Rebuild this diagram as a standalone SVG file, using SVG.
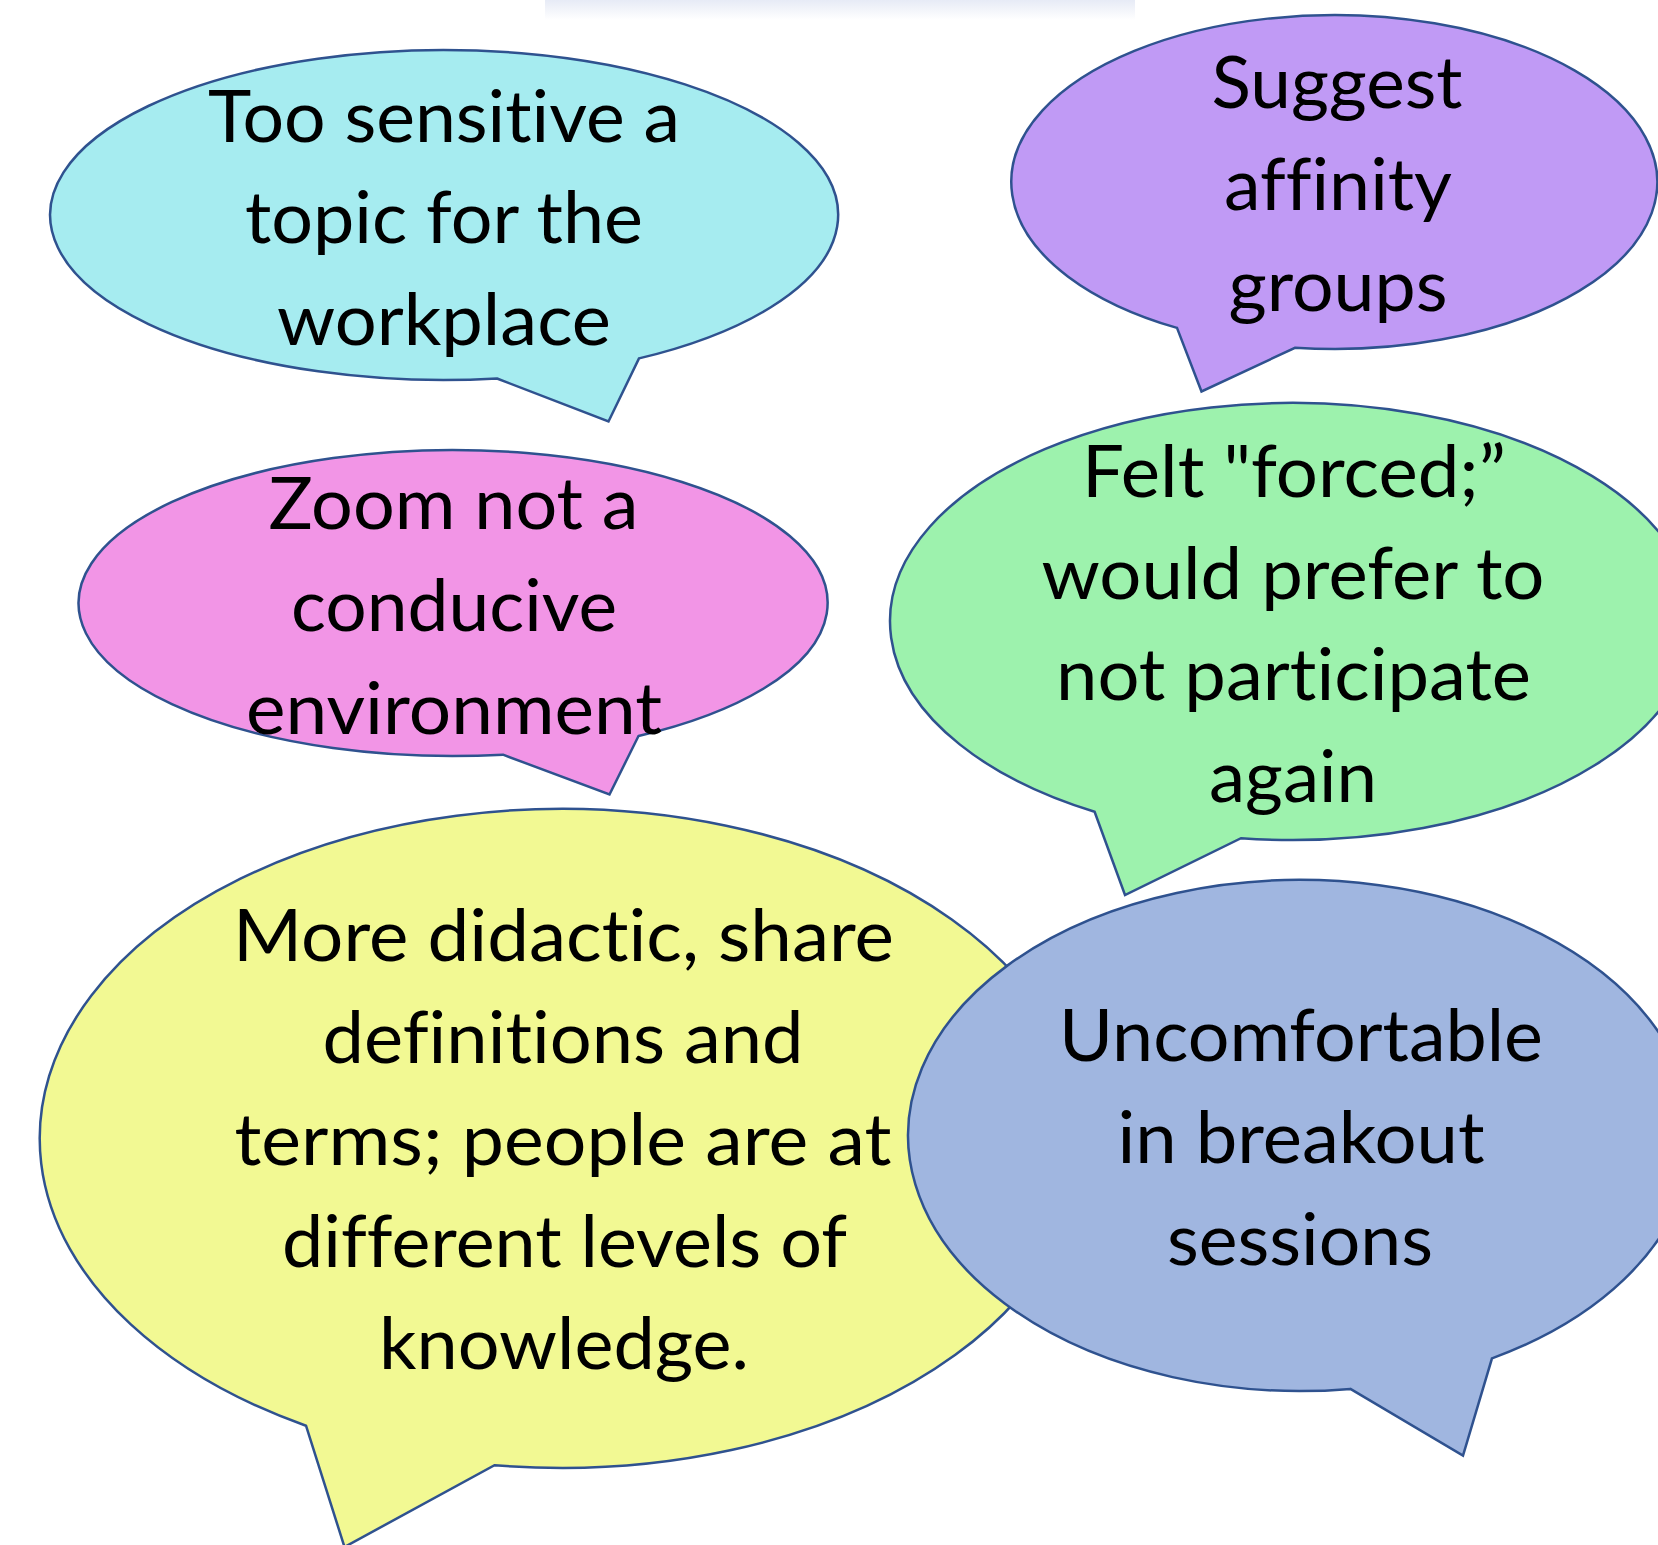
<svg xmlns="http://www.w3.org/2000/svg" width="1658" height="1545" viewBox="0 0 1658 1545">
  <defs>
    <linearGradient id="titleFade" x1="0" y1="0" x2="0" y2="1">
      <stop offset="0" stop-color="#dce2f2"/>
      <stop offset="1" stop-color="#ffffff"/>
    </linearGradient>
    <style>
      .bubble { stroke: #2f528f; stroke-width: 2.5; stroke-linejoin: miter; }
      .label { font-family: Lato, "Open Sans", "Liberation Sans", sans-serif; font-size: 72px; fill: #000000; text-anchor: middle; font-variant-ligatures: none; font-feature-settings: "liga" 0, "clig" 0, "dlig" 0; }
    </style>
  </defs>

  <rect x="0" y="0" width="1658" height="1545" fill="#ffffff"/>

  <!-- faded heading strip cut off at the top edge -->
  <rect x="545" y="0" width="590" height="20" fill="url(#titleFade)" opacity="0.7"/>

  <!-- Each bubble: ellipse outline with a pointed tail, text centred inside -->
  <g id="bubble-sensitive">
    <path class="bubble" fill="#a6ecf0" d="M497,378.5 L608.5,421.5 L639,358.4 A394,165 0 1 0 497,378.5 Z"/>
    <text class="label" x="444" y="142" textLength="472" lengthAdjust="spacingAndGlyphs">Too sensitive a</text>
    <text class="label" x="444" y="243" textLength="398" lengthAdjust="spacingAndGlyphs">topic for the</text>
    <text class="label" x="444" y="345" textLength="334" lengthAdjust="spacingAndGlyphs">workplace</text>
  </g>

  <g id="bubble-affinity">
    <path class="bubble" fill="#c09af5" d="M1177,327.9 L1201.5,391.5 L1295,347.8 A323,167 0 1 0 1177,327.9 Z"/>
    <text class="label" x="1337" y="108" textLength="251" lengthAdjust="spacingAndGlyphs">Suggest</text>
    <text class="label" x="1338" y="210" textLength="228" lengthAdjust="spacingAndGlyphs">affinity</text>
    <text class="label" x="1338" y="311" textLength="219" lengthAdjust="spacingAndGlyphs">groups</text>
  </g>

  <g id="bubble-zoom">
    <path class="bubble" fill="#f295e6" d="M503,754.7 L609.5,794.5 L638.5,736 A374.5,153 0 1 0 503,754.7 Z"/>
    <text class="label" x="453.5" y="529" textLength="370" lengthAdjust="spacingAndGlyphs">Zoom not a</text>
    <text class="label" x="454" y="631" textLength="326" lengthAdjust="spacingAndGlyphs">conducive</text>
    <text class="label" x="454" y="734" textLength="416" lengthAdjust="spacingAndGlyphs">environment</text>
  </g>

  <g id="bubble-forced">
    <path class="bubble" fill="#9df2ad" d="M1094.6,811.8 L1125,895 L1241,838.2 A402,218.5 0 1 0 1094.6,811.8 Z"/>
    <text class="label" x="1294" y="497" textLength="424" lengthAdjust="spacingAndGlyphs">Felt "forced;”</text>
    <text class="label" x="1293" y="598.5" textLength="503" lengthAdjust="spacingAndGlyphs">would prefer to</text>
    <text class="label" x="1293.5" y="700" textLength="475" lengthAdjust="spacingAndGlyphs">not participate</text>
    <text class="label" x="1293" y="801.5" textLength="168" lengthAdjust="spacingAndGlyphs">again</text>
  </g>

  <g id="bubble-didactic">
    <path class="bubble" fill="#f2f993" d="M306,1425.7 L344.5,1547 L494.5,1465.2 A522,329.5 0 1 0 306,1425.7 Z"/>
    <text class="label" x="563.5" y="961" textLength="661" lengthAdjust="spacingAndGlyphs">More didactic, share</text>
    <text class="label" x="563" y="1063" textLength="481" lengthAdjust="spacingAndGlyphs">definitions and</text>
    <text class="label" x="563" y="1165" textLength="657" lengthAdjust="spacingAndGlyphs">terms; people are at</text>
    <text class="label" x="564.5" y="1267" textLength="565" lengthAdjust="spacingAndGlyphs">different levels of</text>
    <text class="label" x="564" y="1369" textLength="370" lengthAdjust="spacingAndGlyphs">knowledge.</text>
  </g>

  <g id="bubble-breakout">
    <path class="bubble" fill="#a0b6e0" d="M1350.4,1388.9 L1463,1455.5 L1492,1358.3 A392,255.5 0 1 0 1350.4,1388.9 Z"/>
    <text class="label" x="1301" y="1061" textLength="484" lengthAdjust="spacingAndGlyphs">Uncomfortable</text>
    <text class="label" x="1301" y="1163" textLength="367" lengthAdjust="spacingAndGlyphs">in breakout</text>
    <text class="label" x="1300" y="1265" textLength="266" lengthAdjust="spacingAndGlyphs">sessions</text>
  </g>
</svg>
